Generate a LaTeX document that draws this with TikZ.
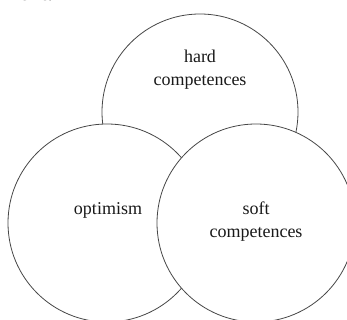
\documentclass[tikz,border=0pt]{standalone}
\usepackage{fontspec}
\setmainfont{Liberation Serif}
\begin{document}
\begin{tikzpicture}[x=1pt,y=1pt,
  ring/.style={circle, draw=black!72, line width=0.8pt, fill=white, minimum size=198pt, inner sep=0pt},
  lbl/.style={align=center, font=\fontsize{18}{23}\selectfont, text=black!90}]
\useasboundingbox (0,0) rectangle (347,320);
\clip (0,0) rectangle (347,320);
\node[anchor=base east, font=\fontsize{21}{24}\selectfont\bfseries, inner sep=0pt] (frag) at (53,319) {ment.};
\node[ring, minimum size=196pt] (hard) at (200,208) {};
\node[ring] (opt) at (107,97) {};
\node[ring] (soft) at (256,97) {};
\node[lbl] (hardt) at (200,250) {hard\\competences};
\node[lbl] (optt) at (108,110) {optimism};
\node[lbl] (softt) at (256,98) {soft\\competences};
\end{tikzpicture}
\end{document}
